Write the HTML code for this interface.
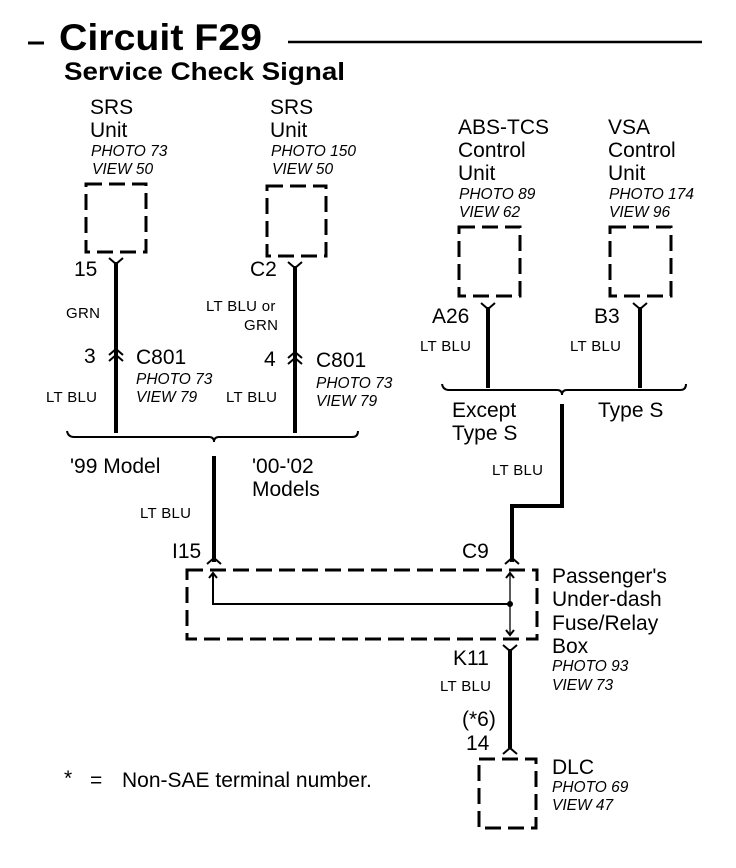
<!DOCTYPE html>
<html><head><meta charset="utf-8"><style>
html,body{margin:0;padding:0;background:#fff;}
svg{display:block;font-family:"Liberation Sans",Arial,sans-serif;}
.b{font-size:21px}.s{font-size:15px;letter-spacing:0.3px}.i{font-size:15.5px;font-style:italic}
.w{stroke:#000;stroke-width:4;fill:none}
.d{stroke:#000;stroke-width:3;fill:none;stroke-dasharray:16 7}
.c{stroke:#000;stroke-width:2;fill:none}
</style></head><body>
<svg width="736" height="868" viewBox="0 0 736 868">
<line x1="28" y1="43" x2="44" y2="43" stroke="#000" stroke-width="3"/>
<text x="59" y="50" font-size="37" font-weight="bold" textLength="203" lengthAdjust="spacingAndGlyphs">Circuit F29</text>
<line x1="288" y1="42" x2="702" y2="42" stroke="#000" stroke-width="2.5"/>
<text x="64" y="80" font-size="25" font-weight="bold" textLength="281" lengthAdjust="spacingAndGlyphs">Service Check Signal</text>

<!-- SRS 1 -->
<text class="b" x="90" y="114">SRS</text><text class="b" x="90" y="137">Unit</text>
<text class="i" x="91" y="156">PHOTO 73</text><text class="i" x="92" y="174">VIEW 50</text>
<rect class="d" x="86" y="184" width="60" height="68"/>
<text class="b" x="74" y="276">15</text>
<polyline class="c" points="109,258 116,264 123,258"/>
<line class="w" x1="116" y1="262" x2="116" y2="433"/>
<text class="s" x="66" y="318">GRN</text>
<text class="b" x="84" y="363">3</text>
<polyline class="c" points="109,355 116,349 123,355"/><polyline class="c" points="109,361 116,355 123,361"/>
<text class="b" x="136" y="364">C801</text>
<text class="i" x="136" y="384">PHOTO 73</text><text class="i" x="136" y="402">VIEW 79</text>
<text class="s" x="46" y="402">LT BLU</text>

<!-- SRS 2 -->
<text class="b" x="270" y="114">SRS</text><text class="b" x="270" y="137">Unit</text>
<text class="i" x="271" y="156">PHOTO 150</text><text class="i" x="272" y="174">VIEW 50</text>
<rect class="d" x="267" y="186" width="59" height="70"/>
<text class="b" x="250" y="276">C2</text>
<polyline class="c" points="288,262 295,268 302,262"/>
<line class="w" x1="295" y1="266" x2="295" y2="433"/>
<text class="s" x="206" y="311">LT BLU or</text><text class="s" x="244" y="330">GRN</text>
<text class="b" x="264" y="366">4</text>
<polyline class="c" points="288,358 295,352 302,358"/><polyline class="c" points="288,364 295,358 302,364"/>
<text class="b" x="316" y="367">C801</text>
<text class="i" x="316" y="388">PHOTO 73</text><text class="i" x="316" y="406">VIEW 79</text>
<text class="s" x="226" y="402">LT BLU</text>

<!-- bracket left -->
<path d="M67,431 Q68,437 74,437 L209,437 Q214,437 214,442 Q214,437 219,437 L352,437 Q358,437 358,431" class="c" stroke-width="2.5"/>
<text class="b" x="70" y="473">'99 Model</text>
<text class="b" x="252" y="473">'00-'02</text><text class="b" x="252" y="496">Models</text>
<line class="w" x1="214" y1="456" x2="214" y2="562"/>
<text class="s" x="140" y="518">LT BLU</text>

<!-- ABS -->
<text class="b" x="458" y="134">ABS-TCS</text><text class="b" x="458" y="157">Control</text><text class="b" x="458" y="180">Unit</text>
<text class="i" x="459" y="199">PHOTO 89</text><text class="i" x="459" y="217">VIEW 62</text>
<rect class="d" x="459" y="227" width="61" height="69"/>
<text class="b" x="432" y="323">A26</text>
<polyline class="c" points="481,303 488,309 495,303"/>
<line class="w" x1="488" y1="307" x2="488" y2="388"/>
<text class="s" x="420" y="351">LT BLU</text>

<!-- VSA -->
<text class="b" x="608" y="134">VSA</text><text class="b" x="608" y="157">Control</text><text class="b" x="608" y="180">Unit</text>
<text class="i" x="609" y="199">PHOTO 174</text><text class="i" x="609" y="217">VIEW 96</text>
<rect class="d" x="610" y="227" width="61" height="69"/>
<text class="b" x="594" y="323">B3</text>
<polyline class="c" points="633,303 640,309 647,303"/>
<line class="w" x1="640" y1="307" x2="640" y2="388"/>
<text class="s" x="570" y="351">LT BLU</text>

<path d="M442,384 Q443,390 449,390 L557,390 Q562,390 562,395 Q562,390 567,390 L680,390 Q686,390 686,384" class="c" stroke-width="2.5"/>
<text class="b" x="452" y="417">Except</text><text class="b" x="452" y="440">Type S</text>
<text class="b" x="598" y="417">Type S</text>
<polyline class="w" points="562,404 562,506 512,506 512,562"/>
<text class="s" x="492" y="475">LT BLU</text>

<!-- fuse box -->
<text class="b" x="172" y="558">I15</text>
<text class="b" x="462" y="558">C9</text>
<polyline class="c" points="207,564 214,558 221,564"/>
<polyline class="c" points="505,564 512,558 519,564"/>
<rect class="d" x="187" y="570" width="350" height="69"/>
<polyline class="c" stroke-width="1.3" points="213,574 213,604 510,604"/>
<polyline class="c" stroke-width="1.3" points="209,578 213,573 217,578"/>
<line x1="510" y1="574" x2="510" y2="636" stroke="#000" stroke-width="1.3"/>
<polyline class="c" stroke-width="1.3" points="506,578 510,573 514,578"/>
<polyline class="c" stroke-width="1.3" points="506,630 510,635 514,630"/>
<circle cx="510" cy="604" r="3"/>
<text class="b" x="552" y="583">Passenger's</text><text class="b" x="552" y="606">Under-dash</text>
<text class="b" x="552" y="630">Fuse/Relay</text><text class="b" x="552" y="653">Box</text>
<text class="i" x="552" y="671">PHOTO 93</text><text class="i" x="552" y="690">VIEW 73</text>

<text class="b" x="453" y="665">K11</text>
<polyline class="c" points="503,645 510,651 517,645"/>
<line class="w" x1="510" y1="649" x2="510" y2="748"/>
<text class="s" x="440" y="691">LT BLU</text>
<text class="b" x="462" y="726">(*6)</text><text class="b" x="466" y="750">14</text>
<polyline class="c" points="503,754 510,748 517,754"/>
<rect class="d" x="479" y="759" width="57" height="69"/>
<text class="b" x="552" y="774">DLC</text>
<text class="i" x="552" y="792">PHOTO 69</text><text class="i" x="552" y="810">VIEW 47</text>

<text class="b" x="64" y="785">*</text><text class="b" x="90" y="787">=</text>
<text class="b" x="122" y="787">Non-SAE terminal number.</text>
</svg>
</body></html>
